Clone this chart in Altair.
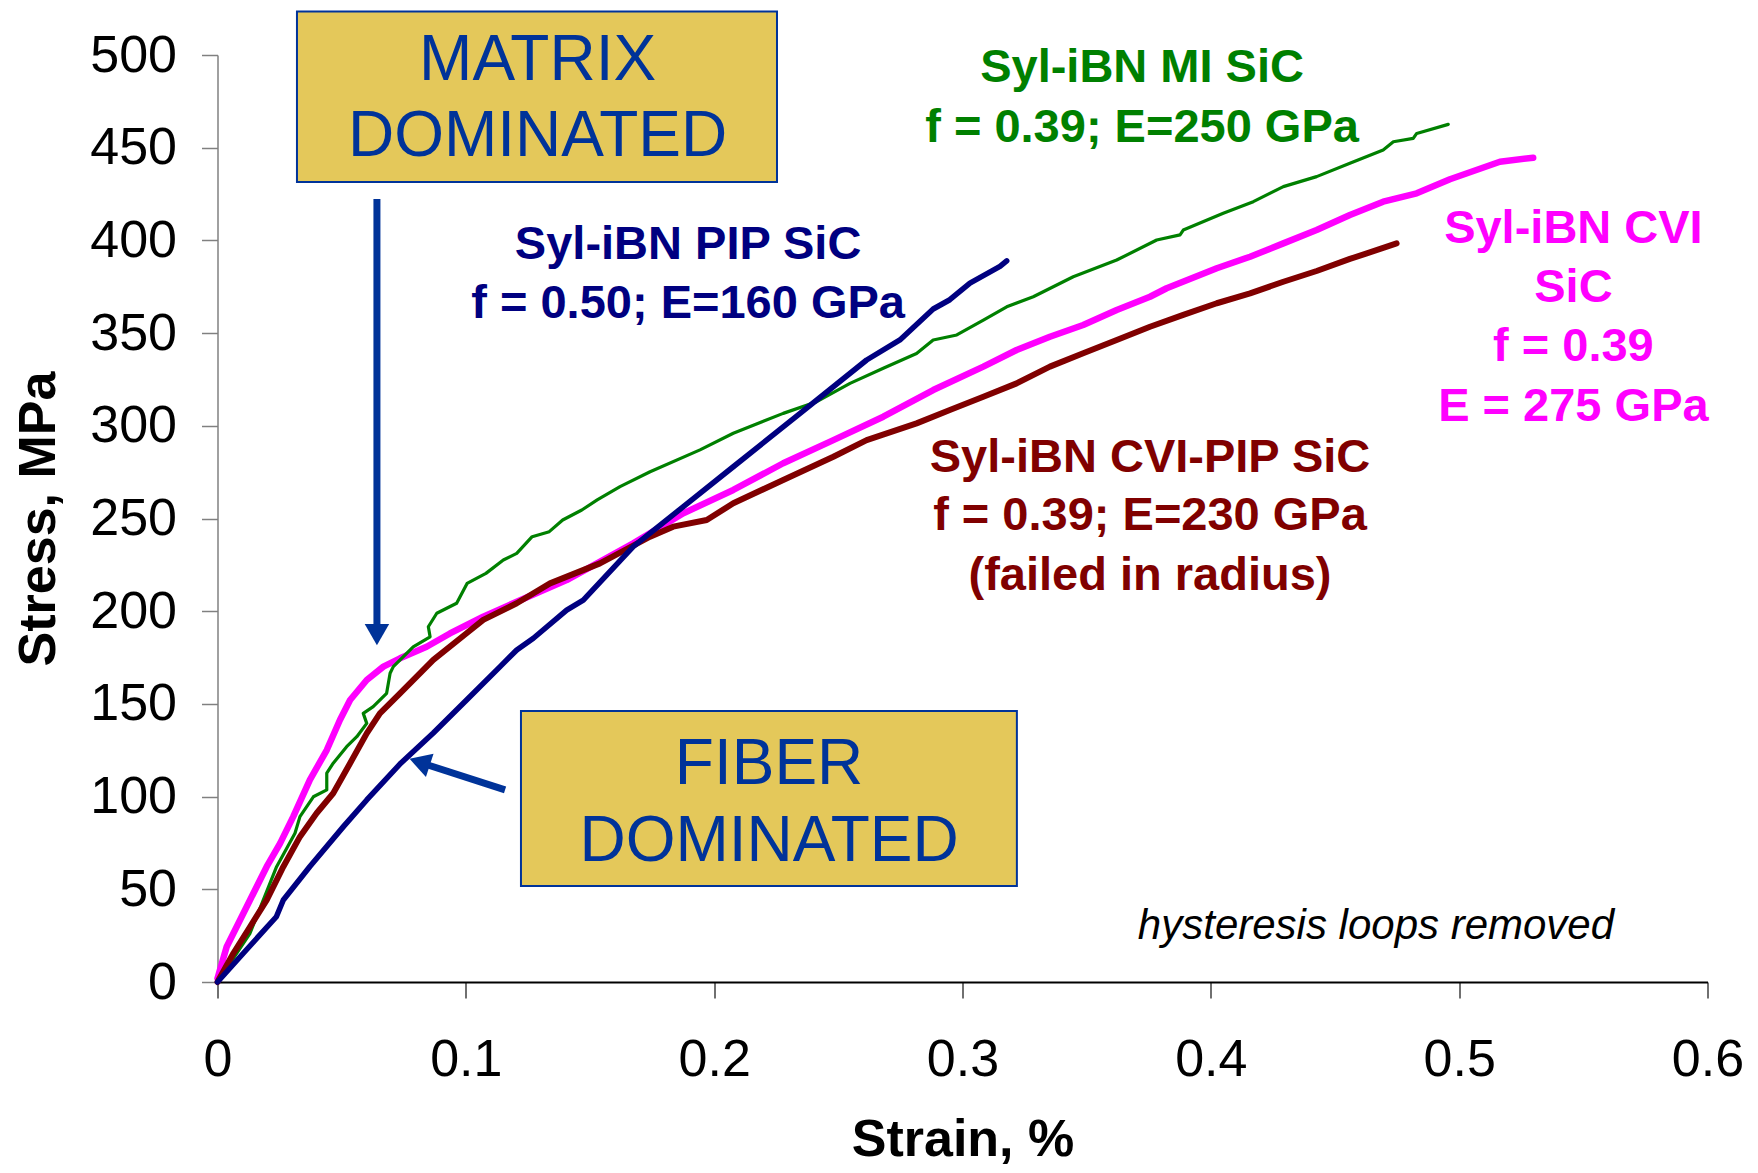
import altair as alt
import pandas as pd

FONT = "Liberation Sans, Arial, sans-serif"

# ---- curve data (strain %, stress MPa) ----
pip_x = [0, 0.0104, 0.0237, 0.0265, 0.0372, 0.0507, 0.0601, 0.0738, 0.0869, 0.1003,
         0.1138, 0.1205, 0.1272, 0.1406, 0.1473, 0.1674, 0.1876, 0.2077, 0.2346,
         0.2614, 0.2748, 0.2882, 0.2949, 0.303, 0.3151, 0.3178]
pip_y = [0, 15.5, 35.2, 44.2, 62.3, 83.8, 98.2, 118, 134.3, 152.1,
         170.1, 179.1, 185.4, 200.6, 206, 234.8, 256.4, 277.9, 306.7,
         335.5, 346.3, 363, 368, 377, 386, 389]

mi_x = [0, 0.0131, 0.0238, 0.0312, 0.0332, 0.0386, 0.044, 0.044, 0.0466, 0.052,
        0.0561, 0.0601, 0.0587, 0.0627, 0.0681, 0.0695, 0.0708, 0.0788, 0.0856,
        0.0849, 0.0883, 0.0963, 0.1005, 0.1081, 0.1151, 0.1205, 0.1267, 0.1336,
        0.139, 0.1467, 0.1529, 0.1621, 0.1742, 0.1943, 0.2077, 0.2278, 0.2413,
        0.2547, 0.2681, 0.2815, 0.2882, 0.2977, 0.3084, 0.3178, 0.3285, 0.3446,
        0.3621, 0.3782, 0.3876, 0.3889, 0.405, 0.4171, 0.4292, 0.4426, 0.456,
        0.4694, 0.4735, 0.4815, 0.4829, 0.4956]
mi_y = [0, 26.3, 62.2, 80.2, 89.2, 99.9, 103.6, 112.6, 118, 126.9,
        132.3, 139.5, 144.9, 148.5, 155.7, 166.5, 170.1, 180.8, 186.2,
        191.6, 198.9, 204.3, 215, 220.4, 227.6, 231.2, 240.2, 242.9,
        249.2, 254.6, 260, 267.2, 275.2, 287, 296, 306.7, 313,
        322.9, 331, 339, 346.3, 349, 357, 364.2, 369.6, 380.4,
        389.4, 400.2, 403, 405.6, 414.6, 420.9, 429, 434.4, 441.6,
        448.8, 453.2, 455, 457.7, 462.6]

cvi_x = [0, 0.0037, 0.0131, 0.0198, 0.0252, 0.0305, 0.0372, 0.044, 0.0493, 0.0534,
         0.0601, 0.0668, 0.0735, 0.0842, 0.0936, 0.107, 0.1205, 0.1406, 0.1674,
         0.1876, 0.2077, 0.2278, 0.248, 0.2681, 0.2882, 0.3084, 0.3218, 0.3352,
         0.3486, 0.3621, 0.3755, 0.3822, 0.4024, 0.4158, 0.4292, 0.4426, 0.456,
         0.4694, 0.4829, 0.4963, 0.5164, 0.5298]
cvi_y = [2, 19, 44.2, 62.2, 74.8, 89.2, 109, 125.1, 141.3, 152.1,
         162.9, 170.1, 174.6, 180.8, 188, 197, 205.1, 216.8, 236.6,
         252.8, 265.4, 279.8, 292.3, 304.9, 319.3, 331.9, 340.9, 348,
         354.4, 362.5, 369.6, 374.2, 385, 391.2, 398.4, 405.6, 413.7,
         420.9, 425.4, 433, 442.4, 444.6]

cvipip_x = [0, 0.0064, 0.0131, 0.0198, 0.0265, 0.0332, 0.0399, 0.0466, 0.0534, 0.0601,
            0.0654, 0.0735, 0.0802, 0.0869, 0.1003, 0.107, 0.1205, 0.1339, 0.154,
            0.1742, 0.1835, 0.197, 0.2077, 0.2278, 0.248, 0.2614, 0.2815, 0.2949,
            0.3084, 0.3218, 0.3352, 0.3486, 0.3621, 0.3755, 0.3889, 0.4024, 0.4158,
            0.4292, 0.4426, 0.456, 0.4628, 0.4748]
cvipip_y = [0, 15.5, 29.8, 44.2, 62.2, 78.4, 91, 101.8, 118, 134.1,
            144.9, 155.7, 164.7, 173.7, 188.1, 195.3, 204.3, 215, 225.8,
            240.2, 245.6, 249.2, 258.2, 270.8, 283.3, 292.3, 301.3, 308.5,
            315.7, 322.9, 331.9, 339.1, 346.3, 353.4, 359.8, 366.1, 371.4,
            377.7, 383.5, 390, 393, 398.4]

x_ticks = [0, 0.1, 0.2, 0.3, 0.4, 0.5, 0.6]
y_ticks = [0, 50, 100, 150, 200, 250, 300, 350, 400, 450, 500]

# ---- annotation texts ----
label_lines = [
    ("Syl-iBN PIP SiC", "#000080"), ("f = 0.50; E=160 GPa", "#000080"),
    ("Syl-iBN MI SiC", "#008000"), ("f = 0.39; E=250 GPa", "#008000"),
    ("Syl-iBN CVI", "#FF00FF"), ("SiC", "#FF00FF"), ("f = 0.39", "#FF00FF"), ("E = 275 GPa", "#FF00FF"),
    ("Syl-iBN CVI-PIP SiC", "#800000"), ("f = 0.39; E=230 GPa", "#800000"), ("(failed in radius)", "#800000"),
]
label_pos = [
    (0.1895, 389.7), (0.1895, 358.0),
    (0.3723, 485.6), (0.3723, 453.2),
    (0.546, 398.8), (0.546, 366.9), (0.546, 335.1), (0.546, 302.7),
    (0.3755, 275.2), (0.3755, 243.8), (0.3755, 211.7),
]
box_lines = ["MATRIX", "DOMINATED", "FIBER", "DOMINATED"]
box_line_pos = [(0.1289, 486.5), (0.1289, 445.5), (0.2221, 106.8), (0.2221, 65.5)]
boxes = [(0.0320, 0.2253, 431.5, 523.5), (0.1222, 0.3219, 51.8, 146.2)]
note_text = "hysteresis loops removed"
note_pos = (0.4665, 23.2)

# arrows: shaft (x, y, x2, y2) and heads (x, y, angle)
shafts = [(0.0642, 422.3, 0.0642, 192.6), (0.1158, 103.6, 0.0850, 116.9)]
heads = [(0.0642, 187.4, 180), (0.0814, 118.6, 288)]

BLUE = "#003399"

x_axis = alt.Axis(values=x_ticks, format="~g", labelFontSize=52, labelFont=FONT,
                  labelColor="black", labelPadding=36, labelFlush=False,
                  tickSize=16, tickColor="#404040", tickWidth=1.5,
                  domainColor="black", domainWidth=2, grid=False,
                  title="Strain, %", titleFont=FONT, titleFontSize=52,
                  titleFontWeight="bold", titleColor="black",
                  titleX=745, titleY=173, titleBaseline="alphabetic", titleAlign="center")
y_axis = alt.Axis(values=y_ticks, labelFontSize=52, labelFont=FONT, labelColor="black",
                  labelPadding=25, labelFlush=False, tickSize=16, tickColor="#808080",
                  tickWidth=1.5, domainColor="#808080", domainWidth=1.5, grid=False,
                  title="Stress, MPa", titleFont=FONT, titleFontSize=52,
                  titleFontWeight="bold", titleColor="black", titleAngle=270,
                  titleX=-163, titleY=463.5, titleBaseline="alphabetic", titleAlign="center")

xs = alt.Scale(domain=[0, 0.6], nice=False, zero=False)
ys = alt.Scale(domain=[0, 500], nice=False, zero=False)
X = alt.X("strain:Q", scale=xs, axis=x_axis)
Y = alt.Y("stress:Q", scale=ys, axis=y_axis)


def curve(xv, yv):
    return pd.DataFrame({"strain": xv, "stress": yv, "i": list(range(len(xv)))})


def line(df, color, width):
    return alt.Chart(df).mark_line(color=color, strokeWidth=width, strokeJoin="round",
                                   strokeCap="round", clip=False).encode(
        x=X, y=Y, order=alt.Order("i:Q"))


box_df = pd.DataFrame({"strain": [b[0] for b in boxes], "strain2": [b[1] for b in boxes],
                       "stress": [b[2] for b in boxes], "stress2": [b[3] for b in boxes]})
box_layer = alt.Chart(box_df).mark_rect(fill="#E4C85A", stroke=BLUE, strokeWidth=2).encode(
    x=X, x2="strain2:Q", y=Y, y2="stress2:Q")

box_text_df = pd.DataFrame({"text": box_lines, "strain": [p[0] for p in box_line_pos],
                            "stress": [p[1] for p in box_line_pos]})
box_text = alt.Chart(box_text_df).mark_text(font=FONT, fontSize=64, color=BLUE,
                                            align="center", baseline="alphabetic").encode(
    x=X, y=Y, text="text:N")

lab_df = pd.DataFrame({"text": [l[0] for l in label_lines], "col": [l[1] for l in label_lines],
                       "strain": [p[0] for p in label_pos], "stress": [p[1] for p in label_pos]})
labels = alt.Chart(lab_df).mark_text(font=FONT, fontSize=47, fontWeight="bold",
                                     align="center", baseline="alphabetic").encode(
    x=X, y=Y, text="text:N", color=alt.Color("col:N", scale=None))

note_df = pd.DataFrame({"text": [note_text], "strain": [note_pos[0]], "stress": [note_pos[1]]})
note = alt.Chart(note_df).mark_text(font=FONT, fontSize=42, fontStyle="italic", color="black",
                                    align="center", baseline="alphabetic").encode(
    x=X, y=Y, text="text:N")

shaft_df = pd.DataFrame({"strain": [s[0] for s in shafts], "stress": [s[1] for s in shafts],
                         "strain2": [s[2] for s in shafts], "stress2": [s[3] for s in shafts]})
shaft_layer = alt.Chart(shaft_df).mark_rule(color=BLUE, strokeWidth=7, strokeCap="butt").encode(
    x=X, y=Y, x2="strain2:Q", y2="stress2:Q")

head_df = pd.DataFrame({"strain": [h[0] for h in heads], "stress": [h[1] for h in heads],
                        "ang": [h[2] for h in heads]})
head_layer = alt.Chart(head_df).mark_point(shape="triangle-up", filled=True, size=600,
                                           color=BLUE, opacity=1, strokeWidth=0).encode(
    x=X, y=Y, angle=alt.Angle("ang:Q", scale=None))

chart = alt.layer(
    line(curve(cvi_x, cvi_y), "#FF00FF", 6.5),
    line(curve(mi_x, mi_y), "#008000", 3.2),
    line(curve(cvipip_x, cvipip_y), "#800000", 6),
    line(curve(pip_x, pip_y), "#000080", 5.5),
    box_layer, box_text, labels, note, shaft_layer, head_layer,
).properties(
    width=1490, height=927,
    autosize=alt.AutoSizeParams(type="none"),
    padding={"left": 209.5, "top": 47, "right": 40, "bottom": 183},
    background="white",
).configure_view(stroke=None)

chart.save("out.html", embed_options={"renderer": "svg", "actions": False})
